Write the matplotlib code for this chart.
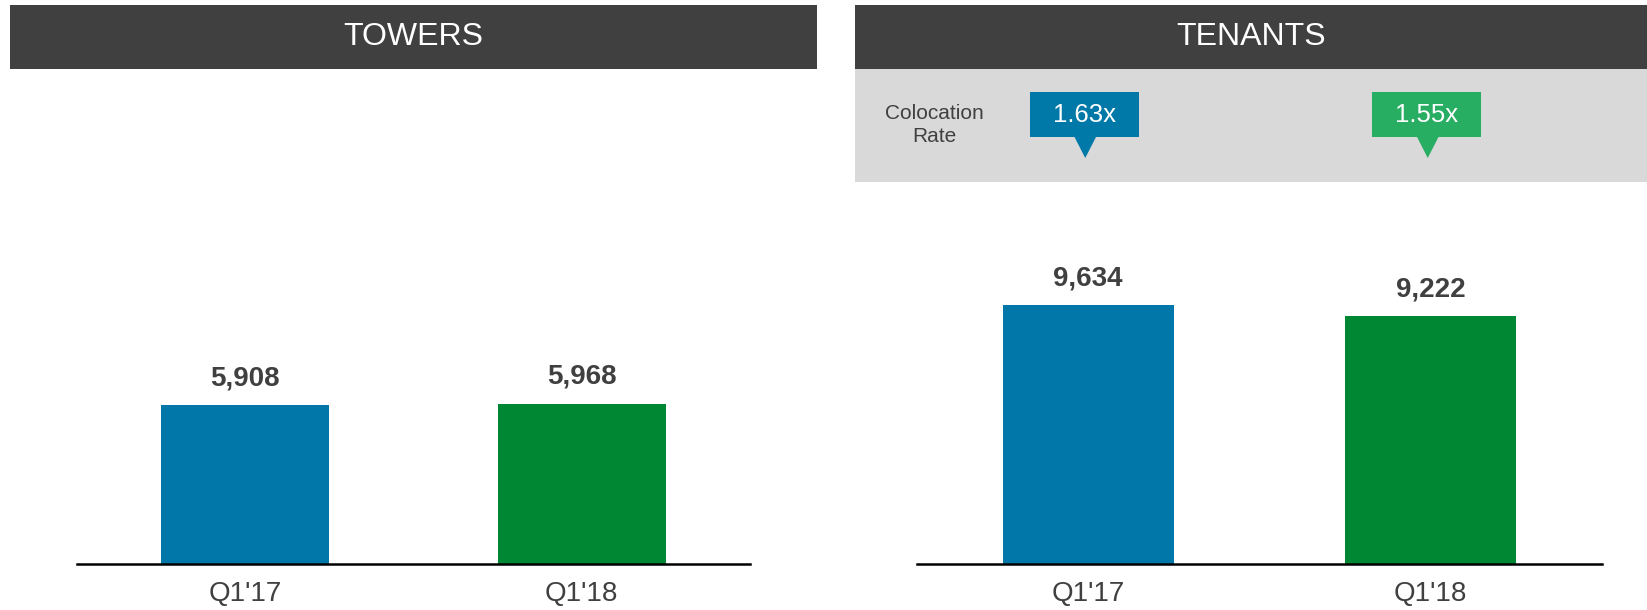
import matplotlib
matplotlib.use("Agg")
import matplotlib.pyplot as plt
import matplotlib.patches as mpatches

plt.rcParams["font.family"] = ["Liberation Sans", "DejaVu Sans"]

# ---------------------------------------------------------------------------
# Data
# ---------------------------------------------------------------------------
periods = ["Q1'17", "Q1'18"]
towers = [5908, 5968]
tenants = [9634, 9222]
colocation = ["1.63x", "1.55x"]

BAR_COLORS = ["#0076A9", "#008733"]
CALLOUT_COLORS = ["#0078A8", "#28AE62"]
DARK = "#404040"
PANEL = "#D9D9D9"

W, H = 1647, 610
fig = plt.figure(figsize=(W / 100, H / 100), dpi=100)


def px_rect(x0, y0, x1, y1):
    """pixel box (top-left origin) -> figure fraction [l, b, w, h]"""
    return [x0 / W, 1 - y1 / H, (x1 - x0) / W, (y1 - y0) / H]


# headers and grey colocation panel (kept below the axes)
for (x0, x1), title in [((10, 817), "TOWERS"), ((855, W), "TENANTS")]:
    l, b, w, h = px_rect(x0, 5, x1, 69)
    fig.patches.append(mpatches.Rectangle((l, b), w, h, transform=fig.transFigure,
                                          facecolor=DARK, edgecolor="none", zorder=-5))
    fig.text(l + w / 2, b + h / 2, title, color="white", fontsize=23,
             ha="center", va="center")

l, b, w, h = px_rect(855, 69, W, 182)
fig.patches.append(mpatches.Rectangle((l, b), w, h, transform=fig.transFigure,
                                      facecolor=PANEL, edgecolor="none", zorder=-5))
fig.text(934 / W, 1 - 125 / H, "Colocation\nRate", color=DARK, fontsize=15,
         ha="center", va="center", linespacing=1.25)


# ---------------------------------------------------------------------------
# Bar panels
# ---------------------------------------------------------------------------
def bar_panel(rect, values):
    ax = fig.add_axes(rect)
    x = range(len(values))
    ax.bar(x, values, width=0.5, color=BAR_COLORS)
    for xi, v in zip(x, values):
        ax.annotate(f"{v:,}", (xi, v), xytext=(0, 10), textcoords="offset points",
                    ha="center", va="bottom", fontsize=20, fontweight="bold",
                    color=DARK)
    ax.set_xlim(-0.5, 1.5)
    ax.set_ylim(0, 14000)
    ax.set_xticks(list(x))
    ax.set_xticklabels(periods, fontsize=20, color=DARK)
    ax.tick_params(axis="x", length=0, pad=12)
    ax.set_yticks([])
    for side in ["top", "left", "right"]:
        ax.spines[side].set_visible(False)
    ax.spines["bottom"].set_linewidth(1.8)
    ax.spines["bottom"].set_color("black")
    ax.patch.set_alpha(0)
    return ax


ax1 = bar_panel(px_rect(77, 188, 750, 564), towers)
ax2 = bar_panel(px_rect(917, 188, 1602, 564), tenants)

# ---------------------------------------------------------------------------
# Colocation callouts, aligned with the tenant bars
# ---------------------------------------------------------------------------
axc = fig.add_axes(px_rect(917, 69, 1602, 182))
axc.set_xlim(-0.5, 1.5)
axc.set_ylim(0, 113)
axc.axis("off")
px = 1 / 342.5          # one pixel in data units
bw = 109 * px
tw = 11 * px
for xi, (txt, col) in enumerate(zip(colocation, CALLOUT_COLORS)):
    cx = xi - 4 * px
    tip = xi - 3 * px
    axc.add_patch(mpatches.Rectangle((cx - bw / 2, 45), bw, 45,
                                     facecolor=col, edgecolor="none"))
    axc.add_patch(mpatches.Polygon([(tip - tw, 45.5), (tip + tw, 45.5), (tip, 24)],
                                   closed=True, facecolor=col, edgecolor="none"))
    axc.text(cx, 67.5, txt, color="white", fontsize=18.5, ha="center", va="center")

fig.savefig("out.png", dpi=100)
